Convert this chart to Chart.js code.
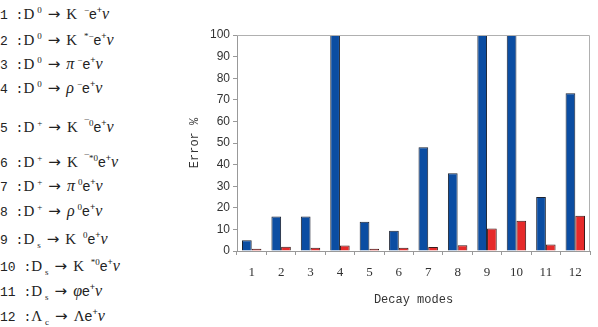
<!DOCTYPE html>
<html>
<head>
<meta charset="utf-8">
<script src="https://cdn.jsdelivr.net/npm/chart.js@4.4.0/dist/chart.umd.min.js"></script>
<style>
  body { margin: 0; background: #fff; }
  #modes { position: absolute; left: 0; top: 0; width: 180px; height: 327px;
           font-family: "Liberation Mono", monospace; font-size: 13px; color: #222; }
  #modes div { position: absolute; left: 0; white-space: nowrap; }
  #modes sup { font-size: 9px; vertical-align: 6px; margin-left: 3px; }
  #modes .e sup { margin-left: 0; }
  #modes sub { font-size: 9px; vertical-align: -4px; margin-left: 3px; }
  .s { font-family: "Liberation Serif", serif; font-size: 15px; }
  .a { font-family: "DejaVu Sans", sans-serif; font-size: 15px; margin: 0 6px; }
  .g { font-family: "Liberation Serif", serif; font-style: italic; font-size: 16px; }
  .e { font-family: "Liberation Sans", sans-serif; font-size: 14px; }
  #wrap { position: absolute; left: 180px; top: 0; width: 418px; height: 327px; }
</style>
</head>
<body>
<div id="modes"></div>
<div id="wrap"><canvas id="myChart"></canvas></div>
<script>
// decay modes and errors
const modeLabels = ['1', '2', '3', '4', '5', '6', '7', '8', '9', '10', '11', '12'];
const parents = ['D<sup>0</sup>', 'D<sup>0</sup>', 'D<sup>0</sup>', 'D<sup>0</sup>',
                 'D<sup>+</sup>', 'D<sup>+</sup>', 'D<sup>+</sup>', 'D<sup>+</sup>',
                 'D<sub>s</sub>', 'D<sub>s</sub>', 'D<sub>s</sub>', 'Λ<sub>c</sub>'];
const daughters = ['K <sup>−</sup>', 'K <sup>*−</sup>', '<span class="g">π</span><sup>−</sup>',
                   '<span class="g">ρ</span><sup>−</sup>', 'K <sup>¯0</sup>',
                   'K <sup>¯*0</sup>', '<span class="g">π</span><sup>0</sup>',
                   '<span class="g">ρ</span><sup>0</sup>', 'K <sup>0</sup>', 'K <sup>*0</sup>',
                   '<span class="g">φ</span>', 'Λ'];
const errorBlue = [5, 16, 16, 100, 13.5, 9.4, 48, 36, 100, 100, 25, 73];
const errorRed = [1, 2, 1.5, 2.6, 1, 1.5, 1.8, 2.7, 10.4, 14, 3, 16.3];
const yTicks = [0, 10, 20, 30, 40, 50, 60, 70, 80, 90, 100];

// row positions of the list on the left
const rowTops = [5, 31, 55, 79, 118, 153, 177, 202, 230, 257, 282, 307];

const modes = document.getElementById('modes');
modeLabels.forEach(function(label, i) {
    const row = document.createElement('div');
    row.style.top = rowTops[i] + 'px';
    row.innerHTML = label + ' :<span class="s">' + parents[i] + '</span><span class="a">→</span>' +
        '<span class="s">' + daughters[i] + '</span><span class="e">e<sup>+</sup></span><span class="g">ν</span>';
    modes.appendChild(row);
});

const framePlugin = {
    id: 'frame',
    afterDraw(chart) {
        const a = chart.chartArea;
        const ctx = chart.ctx;
        ctx.save();
        ctx.strokeStyle = '#b0b0b0';
        ctx.lineWidth = 1;
        ctx.beginPath();
        ctx.moveTo(a.left, a.top + 0.5);
        ctx.lineTo(a.right - 0.5, a.top + 0.5);
        ctx.lineTo(a.right - 0.5, a.bottom);
        ctx.stroke();
        ctx.restore();
    }
};

const ctx = document.getElementById('myChart');
new Chart(ctx, {
    type: 'bar',
    data: {
        labels: modeLabels,
        datasets: [{
            data: errorBlue,
            backgroundColor: '#0b4da2',
            borderColor: '#1c2230',
            borderWidth: 1,
            barPercentage: 1,
            categoryPercentage: 0.66
        }, {
            data: errorRed,
            backgroundColor: '#e62a2a',
            borderColor: '#3a1a1a',
            borderWidth: 1,
            barPercentage: 1,
            categoryPercentage: 0.66
        }]
    },
    options: {
        responsive: true,
        maintainAspectRatio: false,
        animation: false,
        layout: {padding: {top: 35, right: 8, left: 0, bottom: 0}},
        plugins: {legend: {display: false}, tooltip: {enabled: false}},
        scales: {
            x: {
                afterFit: function(scale) { scale.height = 76; },
                grid: {drawOnChartArea: false, tickLength: 4, color: '#999'},
                border: {color: '#999'},
                ticks: {color: '#333', padding: 10, font: {family: 'Liberation Serif', size: 13}},
                title: {display: true, text: 'Decay modes', color: '#333',
                        font: {family: 'Liberation Mono', size: 12}, padding: {top: 4, bottom: 20}}
            },
            y: {
                min: 0,
                max: 100,
                afterFit: function(scale) { scale.width = 57; },
                afterBuildTicks: function(scale) {
                    scale.ticks = yTicks.map(function(v) { return {value: v}; });
                },
                grid: {drawOnChartArea: false, tickLength: 4, color: '#999'},
                border: {color: '#999'},
                ticks: {color: '#333', padding: 3, font: {family: 'Liberation Sans', size: 12}},
                title: {display: true, text: 'Error %', color: '#333',
                        font: {family: 'Liberation Mono', size: 12}, padding: {top: 8, bottom: 0}}
            }
        }
    },
    plugins: [framePlugin]
});
</script>
</body>
</html>
